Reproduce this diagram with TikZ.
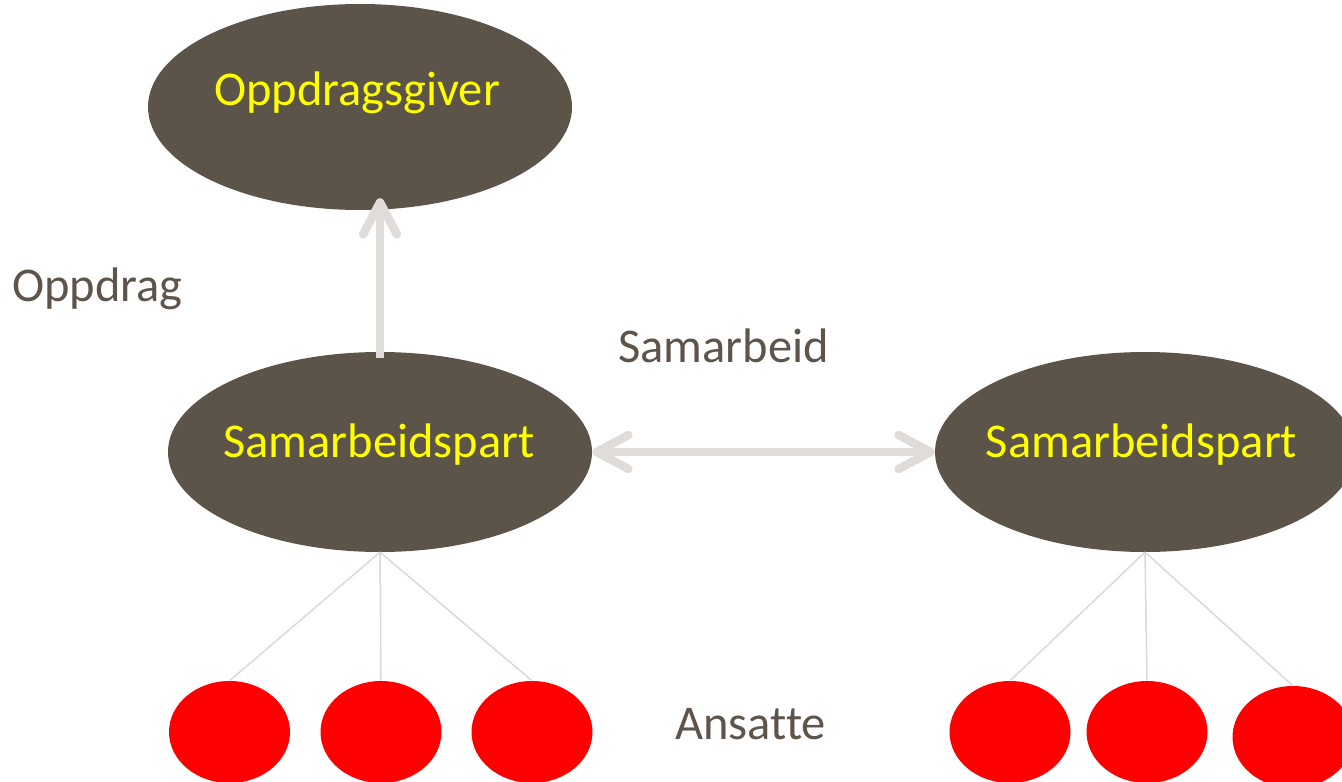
\documentclass[tikz,border=0pt]{standalone}
\usepackage{fontspec}
\setmainfont{Carlito}[Ligatures=NoCommon]
\usetikzlibrary{shapes.geometric,arrows.meta}
\definecolor{bub}{HTML}{5C5349}
\definecolor{arrc}{HTML}{E0DCD9}
\definecolor{lnc}{HTML}{D9D9D9}
\definecolor{txtc}{HTML}{5E5449}
\definecolor{empc}{HTML}{FF0000}
\definecolor{yel}{HTML}{FFFF00}
\begin{document}
\begin{tikzpicture}[x=1bp,y=-1bp,
  bubble/.style={ellipse, fill=bub, draw=none, inner sep=0pt, minimum width=424bp, minimum height=200bp},
  employee/.style={ellipse, fill=empc, draw=none, inner sep=0pt, minimum width=121bp, minimum height=102bp},
  bubtext/.style={text=yel, inner sep=0pt, anchor=base, font=\fontsize{48.5bp}{58bp}\selectfont},
  plaintext/.style={text=txtc, inner sep=0pt, anchor=base west, font=\fontsize{48.5bp}{58bp}\selectfont},
  conn/.style={draw=arrc, line width=8.5bp, line cap=butt,
     arrows={-Straight Barb[length=32bp,width=34bp,line cap=round,line join=round]}},
  dconn/.style={conn, arrows={Straight Barb[length=32bp,width=34bp,line cap=round,line join=round]-Straight Barb[length=32bp,width=34bp,line cap=round,line join=round]}},
  staff/.style={draw=lnc, line width=1.5bp}]
\useasboundingbox (0,0) rectangle (1342,781);
\clip (0,0) rectangle (1342,781);

\node[bubble, minimum height=206bp] (og) at (360,107) {};
\node[bubble] (sp1) at (380,452) {};
\node[bubble, minimum width=420bp] (sp2) at (1145,452) {};

\node[employee] (e1) at (229.5,732) {};
\node[employee] (e2) at (381,732) {};
\node[employee] (e3) at (532,732) {};
\node[employee] (e4) at (1010,732) {};
\node[employee] (e5) at (1147,732) {};
\node[employee] (e6) at (1293,737) {};

\draw[staff] (sp1.south) -- (e1.north);
\draw[staff] (sp1.south) -- (e2.north);
\draw[staff] (sp1.south) -- (e3.north);
\draw[staff] (sp2.south) -- (e4.north);
\draw[staff] (sp2.south) -- (e5.north);
\draw[staff] (sp2.south) -- (e6.north);

\draw[conn] ([yshift=-6bp]sp1.north) -- ([yshift=12bp]sp1.north |- og.south);
\draw[dconn] (sp1.east) -- (sp2.west);

\node[bubtext] (t1) at (357,105) {Oppdragsgiver};
\node[bubtext] (t2) at (379,457) {Samarbeidspart};
\node[bubtext] (t3) at (1141.5,457) {Samarbeidspart};
\node[plaintext] (l1) at (12,301) {Oppdrag};
\node[plaintext] (l2) at (618,362) {Samarbeid};
\node[plaintext] (l3) at (675,739) {Ansatte};
\end{tikzpicture}
\end{document}
